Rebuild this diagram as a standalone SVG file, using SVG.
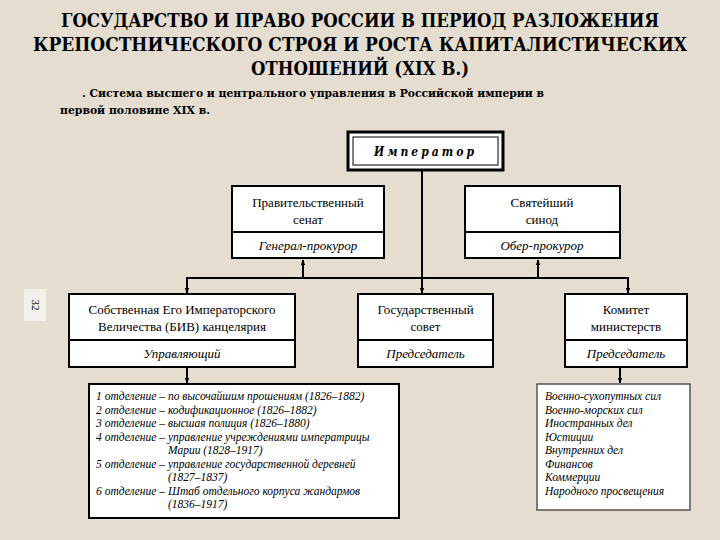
<svg xmlns="http://www.w3.org/2000/svg" width="720" height="540" viewBox="0 0 720 540">
<defs>
<marker id="ah" viewBox="0 0 10 10" refX="9" refY="5" markerWidth="6" markerHeight="6" orient="auto-start-reverse" markerUnits="userSpaceOnUse">
<path d="M0,1 L10,5 L0,9 z" fill="#000"/>
</marker>
<style>
text{font-family:"Liberation Serif","Times New Roman",serif;fill:#000}
.bold{font-family:"DejaVu Serif Condensed","DejaVu Serif",serif;font-weight:bold}
.title{font-size:19px;text-anchor:middle}
.sub{font-size:11.5px}
.box{fill:#fff;stroke:#000;stroke-width:2}
.n{font-size:13px;text-anchor:middle}
.i{font-size:13px;font-style:italic;text-anchor:middle}
.li{font-size:11.5px;font-style:italic}
.c{fill:none;stroke:#000;stroke-width:2}
</style>
</defs>
<rect x="0" y="0" width="720" height="540" fill="#e5ddd0"/>
<g id="title">
<text class="bold title" x="360" y="27" textLength="598" lengthAdjust="spacingAndGlyphs">ГОСУДАРСТВО И ПРАВО РОССИИ В ПЕРИОД РАЗЛОЖЕНИЯ</text>
<text class="bold title" x="360" y="51" textLength="654" lengthAdjust="spacingAndGlyphs">КРЕПОСТНИЧЕСКОГО СТРОЯ И РОСТА КАПИТАЛИСТИЧЕСКИХ</text>
<text class="bold title" x="360" y="75" textLength="218" lengthAdjust="spacingAndGlyphs">ОТНОШЕНИЙ (XIX В.)</text>
</g>
<g id="subtitle">
<text class="bold sub" x="82" y="97" textLength="462" lengthAdjust="spacingAndGlyphs">. Система высшего и центрального управления в Российской империи в</text>
<text class="bold sub" x="60" y="114" textLength="150" lengthAdjust="spacingAndGlyphs">первой половине XIX в.</text>
</g>
<g id="page-number">
<rect x="24" y="289" width="22" height="32" fill="#f4f1ec"/>
<text x="35" y="305" font-size="11" text-anchor="middle" dominant-baseline="middle" transform="rotate(90 35 305)">32</text>
</g>
<g id="connectors">
<line class="c" x1="422" y1="171" x2="422" y2="278"/>
<line class="c" x1="187" y1="278" x2="628" y2="278"/>
<line class="c" x1="303" y1="278" x2="303" y2="260" marker-end="url(#ah)"/>
<line class="c" x1="538" y1="278" x2="538" y2="260" marker-end="url(#ah)"/>
<line class="c" x1="187" y1="277" x2="187" y2="293" marker-end="url(#ah)"/>
<line class="c" x1="422" y1="277" x2="422" y2="293" marker-end="url(#ah)"/>
<line class="c" x1="628" y1="277" x2="628" y2="293" marker-end="url(#ah)"/>
<line class="c" x1="187" y1="368" x2="187" y2="383" marker-end="url(#ah)"/>
<line class="c" x1="620" y1="368" x2="620" y2="383" marker-end="url(#ah)" stroke-width="1.5"/>
</g>
<g id="emperor">
<rect x="348" y="132" width="155" height="38" fill="#fff" stroke="#000" stroke-width="3"/>
<rect x="353" y="137" width="145" height="28" fill="none" stroke="#000" stroke-width="1"/>
<text class="bold" x="425.5" y="156" font-size="12" font-style="italic" letter-spacing="3" text-anchor="middle">Император</text>
</g>
<g id="senate">
<rect class="box" x="232" y="186" width="152" height="72"/>
<line x1="232" y1="232" x2="384" y2="232" stroke="#000" stroke-width="2"/>
<text class="n" x="308" y="207">Правительственный</text>
<text class="n" x="308" y="224">сенат</text>
<text class="i" x="308" y="250">Генерал-прокурор</text>
</g>
<g id="synod">
<rect class="box" x="465" y="186" width="155" height="72"/>
<line x1="465" y1="232" x2="620" y2="232" stroke="#000" stroke-width="2"/>
<text class="n" x="542" y="207">Святейший</text>
<text class="n" x="542" y="224">синод</text>
<text class="i" x="542" y="250">Обер-прокурор</text>
</g>
<g id="chancellery">
<rect class="box" x="69" y="294" width="226" height="73"/>
<line x1="69" y1="340" x2="295" y2="340" stroke="#000" stroke-width="2"/>
<text class="n" x="182" y="314">Собственная Его Императорского</text>
<text class="n" x="182" y="331">Величества (БИВ) канцелярия</text>
<text class="i" x="182" y="358">Управляющий</text>
</g>
<g id="council">
<rect class="box" x="358" y="294" width="135" height="73"/>
<line x1="358" y1="340" x2="493" y2="340" stroke="#000" stroke-width="2"/>
<text class="n" x="425.5" y="314">Государственный</text>
<text class="n" x="425.5" y="331">совет</text>
<text class="i" x="425.5" y="358">Председатель</text>
</g>
<g id="committee">
<rect class="box" x="565" y="294" width="122" height="73"/>
<line x1="565" y1="340" x2="687" y2="340" stroke="#000" stroke-width="2"/>
<text class="n" x="626" y="314">Комитет</text>
<text class="n" x="626" y="331">министерств</text>
<text class="i" x="626" y="358">Председатель</text>
</g>
<g id="departments">
<rect class="box" x="89" y="384" width="310" height="134"/>
<text class="li" x="96" y="400">1 отделение – по высочайшим прошениям (1826–1882)</text>
<text class="li" x="96" y="413.5">2 отделение – кодификационное (1826–1882)</text>
<text class="li" x="96" y="427">3 отделение – высшая полиция (1826–1880)</text>
<text class="li" x="96" y="440.5">4 отделение – управление учреждениями императрицы</text>
<text class="li" x="168" y="454">Марии (1828–1917)</text>
<text class="li" x="96" y="467.5">5 отделение – управление государственной деревней</text>
<text class="li" x="168" y="481">(1827–1837)</text>
<text class="li" x="96" y="494.5">6 отделение – Штаб отдельного корпуса жандармов</text>
<text class="li" x="168" y="508">(1836–1917)</text>
</g>
<g id="ministries">
<rect x="537" y="384" width="153" height="126" fill="#fff" stroke="#555" stroke-width="1.5"/>
<text class="li" x="545" y="400">Военно-сухопутных сил</text>
<text class="li" x="545" y="413.5">Военно-морских сил</text>
<text class="li" x="545" y="427">Иностранных дел</text>
<text class="li" x="545" y="440.5">Юстиции</text>
<text class="li" x="545" y="454">Внутренних дел</text>
<text class="li" x="545" y="467.5">Финансов</text>
<text class="li" x="545" y="481">Коммерции</text>
<text class="li" x="545" y="494.5">Народного просвещения</text>
</g>
</svg>
